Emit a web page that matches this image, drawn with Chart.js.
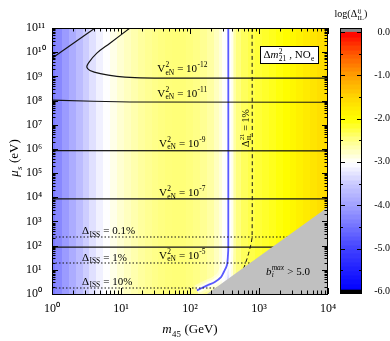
<!DOCTYPE html>
<html><head><meta charset="utf-8">
<script src="https://cdn.jsdelivr.net/npm/chart.js@4/dist/chart.umd.min.js"></script>
<style>html,body{margin:0;padding:0;background:#fff;}canvas{display:block;}</style>
</head><body>
<canvas id="c" width="390" height="341"></canvas>
<script>
const SERIF = "'Liberation Serif','Times New Roman',serif";

// ---- data (log10 values) ----
const massLog  = [0,0.1,0.2,0.3,0.4,0.5,0.6,0.7,0.8,0.9,1.0,1.1,1.2,1.3,1.4,1.5,1.6,1.7,1.8,1.9,2.0,2.1,2.2,2.3,2.4,2.45,2.5,2.53,2.555,2.58,2.61,2.65,2.7,2.8,2.9,3.0,3.1,3.2,3.3,3.4,3.5,3.6,3.7,3.8,3.9,4.0];
const logDelta = [-4.4,-4.25,-4.05,-3.85,-3.65,-3.45,-3.28,-3.13,-3.01,-2.9,-2.8,-2.72,-2.65,-2.58,-2.53,-2.49,-2.46,-2.44,-2.43,-2.43,-2.45,-2.48,-2.53,-2.6,-2.72,-2.83,-2.97,-3.1,-3.3,-3.05,-2.85,-2.6,-2.45,-2.33,-2.26,-2.2,-2.15,-2.1,-2.04,-1.97,-1.9,-1.82,-1.75,-1.68,-1.6,-1.55];
const colorStops = [[0,255,0,0],[-0.5,255,90,0],[-1,255,160,0],[-1.5,255,215,0],[-2,255,255,0],[-2.5,255,255,140],[-3,255,255,255],[-3.5,200,200,255],[-4,160,160,255],[-4.5,112,112,255],[-5,64,64,255],[-5.5,30,30,255],[-5.95,0,0,255]];
const xTickValues = [1,10,100,1000,10000];
const yTickValues = [1,1e1,1e2,1e3,1e4,1e5,1e6,1e7,1e8,1e9,1e10,1e11];
const cbTickValues = [0,-1,-2,-3,-4,-5,-6];

// contours: [log10 m45, log10 mu_s]
const contourV2m13 = [[0,9.75],[0.625,11]];
const contourV2m12 = [[1.13,11],[0.84,10.37],[0.65,9.96],[0.53,9.56],[0.505,9.38],[0.55,9.24],[0.70,9.11],[0.94,9.0],[1.2,8.95],[1.6,8.93],[2.5,8.93],[4,8.93]];
const contourV2m11 = [[0,8.02],[0.6,7.97],[1.13,7.94],[4,7.93]];
const contourV2m9  = [[0,5.93],[4,5.92]];
const contourV2m7  = [[0,3.93],[4,3.93]];
const contourV2m5  = [[0,1.94],[3.6,1.94]];
const issLines = { '0.1%': [[0,2.36],[4,2.36]], '1%': [[0,1.28],[4,1.28]], '10%': [[0,0.25],[4,0.25]] };
const deltaZero  = [[2.555,11],[2.555,1.9],[2.55,1.6],[2.536,1.2],[2.49,0.91],[2.45,0.7],[2.36,0.5],[2.26,0.37],[2.17,0.25],[2.1,0.15]];
const delta1pct  = [[2.90,11],[2.90,2.36],[2.88,2.02],[2.855,1.74],[2.83,1.49],[2.80,1.24],[2.77,0.99]];
const greyRegion = [[2.245,0],[4,3.6]];

const pts = a => a.map(([lm,lu]) => ({x: Math.pow(10,lm), y: Math.pow(10,lu)}));

function colorFor(v){
  if (v > 0) return 'rgb(136,136,136)';
  if (v < -5.95) return 'rgb(0,0,0)';
  for (let i=0;i<colorStops.length-1;i++){
    const a=colorStops[i], b=colorStops[i+1];
    if (v<=a[0] && v>=b[0]){
      const t=(a[0]-v)/(a[0]-b[0]);
      return 'rgb('+[1,2,3].map(k=>Math.round(a[k]+(b[k]-a[k])*t)).join(',')+')';
    }
  }
  return 'rgb(0,0,255)';
}

function fnt(size,it){return (it?'italic ':'')+size+'px '+SERIF;}
function richWidth(ctx,parts,size){
  let w=0;
  for(const p of parts){
    if(p.t!==undefined){ctx.font=fnt(size,p.it);w+=ctx.measureText(p.t).width;}
    else{ctx.font=fnt(size*0.68,p.it);w+=Math.max(p.sup?ctx.measureText(p.sup).width:0,p.sub?ctx.measureText(p.sub).width:0)+0.6;}
  }
  return w;
}
function drawRich(ctx,parts,x,yMid,size,align){
  const w=richWidth(ctx,parts,size);
  let cx=align==='center'?x-w/2:align==='right'?x-w:x;
  const base=yMid+size*0.33;
  ctx.textBaseline='alphabetic';ctx.textAlign='left';ctx.fillStyle='#000';
  for(const p of parts){
    if(p.t!==undefined){ctx.font=fnt(size,p.it);ctx.fillText(p.t,cx,base);cx+=ctx.measureText(p.t).width;}
    else{
      ctx.font=fnt(size*0.68,p.it);
      let m=0;
      if(p.sup){ctx.fillText(p.sup,cx+0.3,base-size*0.42);m=Math.max(m,ctx.measureText(p.sup).width);}
      if(p.sub){ctx.fillText(p.sub,cx+0.3,base+size*0.25);m=Math.max(m,ctx.measureText(p.sub).width);}
      cx+=m+0.6;
    }
  }
}

const heatmapPlugin = {
  id:'heatmap',
  beforeDatasetsDraw(chart){
    const {ctx,chartArea:a,scales:{x}}=chart;
    ctx.save();
    ctx.beginPath();ctx.rect(a.left,a.top,a.right-a.left,a.bottom-a.top);ctx.clip();
    for(let i=0;i<massLog.length;i++){
      const lo=i===0?massLog[0]:(massLog[i-1]+massLog[i])/2;
      const hi=i===massLog.length-1?massLog[i]:(massLog[i]+massLog[i+1])/2;
      const p0=x.getPixelForValue(Math.pow(10,lo)), p1=x.getPixelForValue(Math.pow(10,hi));
      ctx.fillStyle=colorFor(logDelta[i]);
      ctx.fillRect(Math.floor(p0),a.top,Math.ceil(p1)-Math.floor(p0)+1,a.bottom-a.top);
    }
    ctx.restore();
  }
};

function logTicks(scale,isX,a,ctx){
  const lo=Math.round(Math.log10(scale.min)), hi=Math.round(Math.log10(scale.max));
  for(let d=lo;d<=hi;d++){
    for(let k=1;k<=9;k++){
      const v=k*Math.pow(10,d);
      if(v>scale.max*1.0001) break;
      const p=Math.round(scale.getPixelForValue(v))+0.5;
      const L=k===1?6:3.5;
      ctx.beginPath();
      if(isX){ctx.moveTo(p,a.bottom);ctx.lineTo(p,a.bottom-L);ctx.moveTo(p,a.top);ctx.lineTo(p,a.top+L);}
      else{ctx.moveTo(a.left,p);ctx.lineTo(a.left+L,p);ctx.moveTo(a.right,p);ctx.lineTo(a.right-L,p);}
      ctx.stroke();
    }
  }
}

const overlayPlugin = {
  id:'overlay',
  afterDatasetsDraw(chart){
    const {ctx,chartArea:a,scales:{x,y,cb}}=chart;
    const X=lm=>x.getPixelForValue(Math.pow(10,lm)), Y=lu=>y.getPixelForValue(Math.pow(10,lu));
    ctx.save();
    const v2=(e)=>[{t:'V'},{sup:'2',sub:'eN'},{t:' = 10'},{sup:e}];
    drawRich(ctx,v2('-12'),X(1.89),Y(9.34),11,'center');
    drawRich(ctx,v2('-11'),X(1.89),Y(8.31),11,'center');
    drawRich(ctx,v2('-9'),X(1.89),Y(6.24),11,'center');
    drawRich(ctx,v2('-7'),X(1.89),Y(4.21),11,'center');
    drawRich(ctx,v2('-5'),X(1.89),Y(1.61),11,'center');
    drawRich(ctx,[{t:'Δ'},{sub:'ISS'},{t:' = 0.1%'}],X(0.435),Y(2.64),11,'left');
    drawRich(ctx,[{t:'Δ'},{sub:'ISS'},{t:' = 1%'}],X(0.435),Y(1.53),11,'left');
    drawRich(ctx,[{t:'Δ'},{sub:'ISS'},{t:' = 10%'}],X(0.435),Y(0.54),11,'left');
    ctx.save();ctx.translate(X(2.80),Y(6.86));ctx.rotate(-Math.PI/2);
    drawRich(ctx,[{t:'Δ'},{sup:'21',sub:'IL'},{t:' = 1%'}],0,0,10,'center');
    ctx.restore();
    drawRich(ctx,[{t:'b',it:true},{sup:'max',sub:'i',it:true},{t:' > 5.0'}],X(3.10),Y(0.95),11,'left');
    const bx0=X(3.014),bx1=X(3.855),by0=Y(10.25),by1=Y(9.55);
    ctx.fillStyle='#fff';ctx.fillRect(bx0,by0,bx1-bx0,by1-by0);
    ctx.strokeStyle='#000';ctx.lineWidth=1;ctx.strokeRect(Math.round(bx0)+0.5,Math.round(by0)+0.5,Math.round(bx1-bx0),Math.round(by1-by0));
    drawRich(ctx,[{t:'Δ'},{t:'m',it:true},{sup:'2',sub:'21'},{t:' , NO'},{sub:'e'}],(bx0+bx1)/2,(by0+by1)/2,11,'center');
    ctx.strokeStyle='#000';ctx.lineWidth=1;
    logTicks(x,true,a,ctx);logTicks(y,false,a,ctx);
    ctx.strokeRect(a.left+0.5,a.top+0.5,a.right-a.left-1,a.bottom-a.top);
    drawRich(ctx,[{t:'m',it:true},{sub:'45'},{t:' (GeV)'}],(a.left+a.right)/2,a.bottom+35,13,'center');
    ctx.save();ctx.translate(14,(a.top+a.bottom)/2-3);ctx.rotate(-Math.PI/2);
    drawRich(ctx,[{t:'μ',it:true},{sub:'s',it:true},{t:' (eV)'}],0,0,13,'center');
    ctx.restore();
    const cx0=a.right+12,cx1=a.right+34;
    for(let i=0;i<60;i++){
      const lo=-6+i*0.1,hi=lo+0.1;
      const p0=cb.getPixelForValue(hi),p1=cb.getPixelForValue(lo);
      ctx.fillStyle=colorFor(lo+0.05);
      ctx.fillRect(cx0,Math.floor(p0),cx1-cx0,Math.ceil(p1)-Math.floor(p0)+0.5);
    }
    ctx.fillStyle=colorFor(0.05);
    ctx.fillRect(cx0,cb.getPixelForValue(cb.max),cx1-cx0,cb.getPixelForValue(0)-cb.getPixelForValue(cb.max));
    ctx.fillStyle='#000';
    ctx.fillRect(cx0,cb.getPixelForValue(-5.95),cx1-cx0,cb.getPixelForValue(cb.min)-cb.getPixelForValue(-5.95));
    ctx.strokeStyle='#000';ctx.lineWidth=1;
    ctx.strokeRect(cx0+0.5,cb.getPixelForValue(cb.max)+0.5,cx1-cx0-1,cb.getPixelForValue(cb.min)-cb.getPixelForValue(cb.max)-1);
    for(let v=-6;v<=0.001;v+=0.5){
      const p=Math.round(cb.getPixelForValue(v))+0.5, L=Math.abs(v-Math.round(v))<0.01?5:3;
      ctx.beginPath();ctx.moveTo(cx0,p);ctx.lineTo(cx0+L,p);ctx.moveTo(cx1,p);ctx.lineTo(cx1-L,p);ctx.stroke();
    }
    drawRich(ctx,[{t:'log(Δ'},{sup:'ij',sub:'IL'},{t:')'}],(cx0+cx1)/2,a.top-14,10,'center');
    ctx.restore();
  }
};

const line=(data,o)=>Object.assign({type:'line',data:pts(data),borderColor:'#151515',borderWidth:1.2,pointRadius:0,fill:false,tension:0,order:1},o);
const supDigits={'0':'⁰','1':'¹','2':'²','3':'³','4':'⁴','5':'⁵','6':'⁶','7':'⁷','8':'⁸','9':'⁹'};
const decadeLabel=v=>'10'+String(Math.round(Math.log10(v))).split('').map(c=>supDigits[c]).join('');

new Chart(document.getElementById('c'),{
  type:'line',
  data:{datasets:[
    line(greyRegion,{fill:'start',backgroundColor:'#c0c0c0',borderColor:'#c0c0c0',borderWidth:0,order:0}),
    line(contourV2m13,{}),
    line(contourV2m12,{tension:0.35}),
    line(contourV2m11,{}),
    line(contourV2m9,{}),
    line(contourV2m7,{}),
    line(contourV2m5,{}),
    line(issLines['0.1%'],{borderDash:[1.5,2],borderWidth:1.1}),
    line(issLines['1%'],{borderDash:[1.5,2],borderWidth:1.1}),
    line(issLines['10%'],{borderDash:[1.5,2],borderWidth:1.1}),
    line(delta1pct,{borderDash:[4,3],borderWidth:1,tension:0.3}),
    line(deltaZero,{borderColor:'#5a5aff',borderWidth:1.8,tension:0.3,order:2}),
    line(deltaZero,{borderColor:'rgba(255,255,255,0.75)',borderWidth:6,tension:0.3,order:3}),
    line(deltaZero,{borderColor:'rgba(255,255,255,0.4)',borderWidth:11,tension:0.3,order:4})
  ]},
  options:{
    responsive:false,animation:false,
    layout:{padding:{left:26,top:28,right:0,bottom:0}},
    plugins:{legend:{display:false},tooltip:{enabled:false}},
    scales:{
      x:{type:'logarithmic',position:'bottom',min:1,max:1e4,
        afterFit(s){s.height=47;},
        afterBuildTicks(s){s.ticks=xTickValues.map(v=>({value:v}));},
        ticks:{callback:v=>decadeLabel(v),font:{family:SERIF,size:12},color:'#000',padding:8,maxRotation:0,autoSkip:false},
        grid:{display:false,drawTicks:false},border:{display:false}},
      y:{type:'logarithmic',position:'left',min:1,max:1e11,
        afterFit(s){s.width=26;},
        afterBuildTicks(s){s.ticks=yTickValues.map(v=>({value:v}));},
        ticks:{callback:v=>decadeLabel(v),font:{family:SERIF,size:12},color:'#000',crossAlign:'far',autoSkip:false},
        grid:{display:false,drawTicks:false},border:{display:false}},
      cb:{type:'linear',position:'right',min:-6.05,max:0.09,
        afterFit(s){s.width=62;},
        afterBuildTicks(s){s.ticks=cbTickValues.map(v=>({value:v}));},
        ticks:{callback:v=>v.toFixed(1),font:{family:SERIF,size:10},color:'#000',crossAlign:'far',padding:2},
        grid:{display:true,drawOnChartArea:false,drawTicks:true,tickLength:34,tickColor:'rgba(0,0,0,0)'},border:{display:false}}
    }
  },
  plugins:[heatmapPlugin,overlayPlugin]
});
</script>
</body></html>
